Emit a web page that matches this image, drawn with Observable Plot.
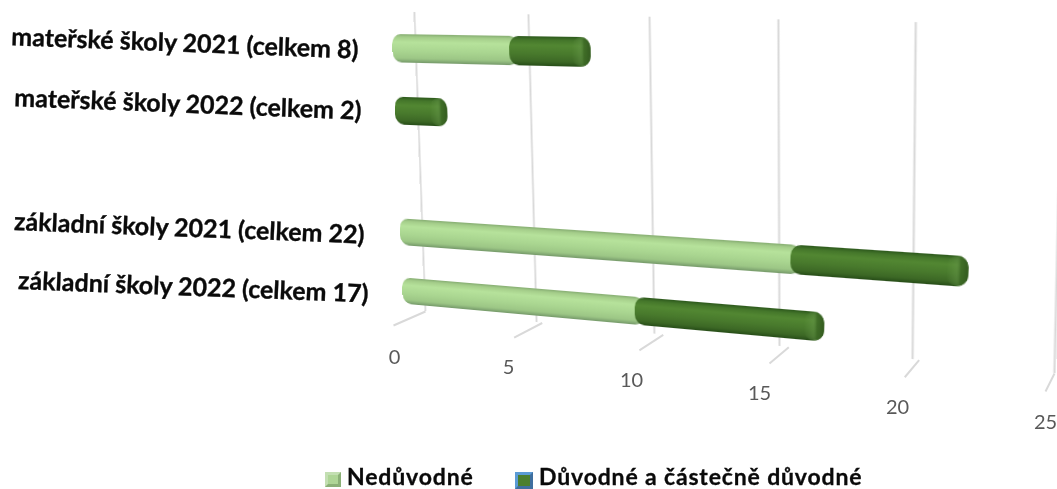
<!DOCTYPE html>
<html><head><meta charset="utf-8">
<script src="https://cdn.jsdelivr.net/npm/d3@7"></script>
<script src="https://cdn.jsdelivr.net/npm/@observablehq/plot@0.6"></script>
<style>
html,body{margin:0;padding:0;background:#fff;overflow:hidden}
#stage{position:relative;width:1057px;height:489px;overflow:hidden}
#stage>svg,#stage>figure{position:absolute;left:0;top:0;margin:0;background:transparent}
.plane{transform-origin:0 0}
#legend{position:absolute;left:0;top:463px;width:1057px;height:26px;font:700 23px/26px Lato,sans-serif;color:#0a0a0a;-webkit-text-stroke:.3px #0a0a0a}
#legend span{position:absolute;top:0;white-space:nowrap;letter-spacing:.85px}
#legend i{position:absolute;display:block;box-sizing:border-box;top:9px;border-style:solid;border-width:3px}
</style></head><body><div id="stage"><div id="legend"></div></div>
<script>
const categories = ["mateřské školy 2021 (celkem 8)","mateřské školy 2022 (celkem 2)","základní školy 2021 (celkem 22)","základní školy 2022 (celkem 17)"];
const rows = [categories[0],categories[1]," ",categories[2],categories[3]];
const neduvodne = [5,0,16,10];
const duvodne = [3,2,6,7];
const ticks = [0,5,10,15,20,25];
const seriesNames = ["Nedůvodné","Důvodné a částečně důvodné"];

const labelX = [358,361,364,368];
const labelY = [50,111,235,294];
const tickX = [394,508,631,759,897,1045];
const tickY = [357,367,380,393,407,422];

const wallQuad  = [[414,12],[1062,25],[1054,373],[425,311]];
const floorQuad = [[425,311],[1054,373],[1045,391],[393,325]];
const barQuad   = [[391,16],[1066,23.5],[1043,379.5],[403.5,319]];

function homography(q){
  const [[x0,y0],[x1,y1],[x2,y2],[x3,y3]] = q;
  const dx1=x1-x2,dx2=x3-x2,sx=x0-x1+x2-x3,dy1=y1-y2,dy2=y3-y2,sy=y0-y1+y2-y3;
  const det=dx1*dy2-dx2*dy1, g=(sx*dy2-dx2*sy)/det, k=(dx1*sy-sx*dy1)/det;
  return {a:x1-x0+g*x1,b:x3-x0+k*x3,c:x0,d:y1-y0+g*y1,e:y3-y0+k*y3,f:y0,g,k};
}
function matrixFor(q,w,h){
  const {a,b,c,d,e,f,g,k}=homography(q);
  return `matrix3d(${[a/w,d/w,0,g/w,b/h,e/h,0,k/h,0,0,1,0,c,f,0,1].join(",")})`;
}
function project(q,u,v){
  const {a,b,c,d,e,f,g,k}=homography(q), z=g*u+k*v+1;
  return [(a*u+b*v+c)/z,(d*u+e*v+f)/z];
}
const stage=document.getElementById("stage");
function plane(marks,quad,w,h,extra={}){
  const p=Plot.plot({width:w,height:h,margin:0,x:{domain:[0,25],axis:null},y:{axis:null},marks,...extra,
    style:{overflow:"visible",background:"transparent"}});
  p.classList.add("plane");
  p.style.transform=matrixFor(quad,w,h);
  stage.appendChild(p);
}
const W=650,H=300;
plane([Plot.ruleX(ticks,{stroke:"#d9d9d9",strokeWidth:2})],wallQuad,W,H);

const table=categories.map((c,i)=>({row:c,n:neduvodne[i],d:duvodne[i],total:neduvodne[i]+duvodne[i]}));
function grad(id,stops,horizontal){
  const g=document.createElementNS("http://www.w3.org/2000/svg","linearGradient");
  g.id=id; g.setAttribute("x1",0);g.setAttribute("y1",0);
  g.setAttribute("x2",horizontal?1:0);g.setAttribute("y2",horizontal?0:1);
  for(const [o,c,a] of stops){const s=document.createElementNS("http://www.w3.org/2000/svg","stop");
    s.setAttribute("offset",o);s.setAttribute("stop-color",c);s.setAttribute("stop-opacity",a??1);g.appendChild(s);}
  return g;
}
const defs=()=>{const d=document.createElementNS("http://www.w3.org/2000/svg","defs");
  d.appendChild(grad("gL",[[0,"#86ad72"],[.1,"#a4cd8a"],[.28,"#b6e29b"],[.6,"#a9d590"],[.85,"#9cc685"],[1,"#75996a"]]));
  d.appendChild(grad("gD",[[0,"#2c581c"],[.12,"#44762a"],[.3,"#528732"],[.6,"#48792c"],[.85,"#3c6825"],[1,"#274d18"]]));
  d.appendChild(grad("gC",[[0,"#6d9e50",0],[.45,"#6d9e50",.35],[.65,"#3d6a25",.8],[1,"#335a1f",1]],true));
  return d;};
const common={y:"row",rx:10};
const capLength=.3;
plane([
  defs,
  Plot.barX(table.filter(t=>t.n>0),{...common,x1:0,x2:t=>t.n+.4,fill:"url(#gL)"}),
  Plot.barX(table,{...common,x1:"n",x2:t=>t.total+capLength,fill:"url(#gD)"}),
  Plot.barX(table,{...common,x1:t=>t.total-.75+capLength,x2:t=>t.total+capLength,fill:"url(#gC)"})
],barQuad,W,H,{y:{axis:null,domain:rows,paddingInner:.55,paddingOuter:.275}});

const overlay=(marks)=>{stage.appendChild(Plot.plot({width:1057,height:460,margin:0,x:{type:"identity",axis:null},y:{type:"identity",axis:null},marks,style:{background:"transparent"}}));};
const tickPx=d3.scaleLinear().domain(ticks).range(tickX), tickPy=d3.scaleLinear().domain(ticks).range(tickY);
overlay([
  Plot.link(ticks,{x1:d=>project(floorQuad,d/25,0)[0],y1:d=>project(floorQuad,d/25,0)[1],
                   x2:d=>project(floorQuad,d/25,1)[0],y2:d=>project(floorQuad,d/25,1)[1],stroke:"#d9d9d9",strokeWidth:2}),
  Plot.text(categories,{x:(c,i)=>labelX[i],y:(c,i)=>labelY[i],text:c=>c,textAnchor:"end",rotate:2.2,fontFamily:"Lato",fontWeight:700,fontSize:25,fill:"#0a0a0a",stroke:"#0a0a0a",strokeWidth:.35}),
  Plot.text(ticks,{x:d=>tickPx(d),y:d=>tickPy(d),text:d=>String(d),fontFamily:"Lato",fontSize:20,fill:"#595959"})
]);

const lg=document.getElementById("legend");
stage.appendChild(lg);
const swatches=[{l:325,s:16,c:"#aed596",b:"#c3dfb2 #8bb077 #8bb077 #c3dfb2"},{l:515,s:18,c:"#4c7f2f",b:"#5b9bd5 #3f6f9f #3f6f9f #5b9bd5"}];
const textX=[347,539];
seriesNames.forEach((n,i)=>{
  const sw=swatches[i];
  const e=document.createElement("i");
  e.style.cssText=`left:${sw.l}px;width:${sw.s}px;height:${sw.s-1}px;background:${sw.c};border-color:${sw.b}`;
  const t=document.createElement("span");t.textContent=n;t.style.left=textX[i]+"px";
  lg.append(e,t);
});
</script></body></html>
